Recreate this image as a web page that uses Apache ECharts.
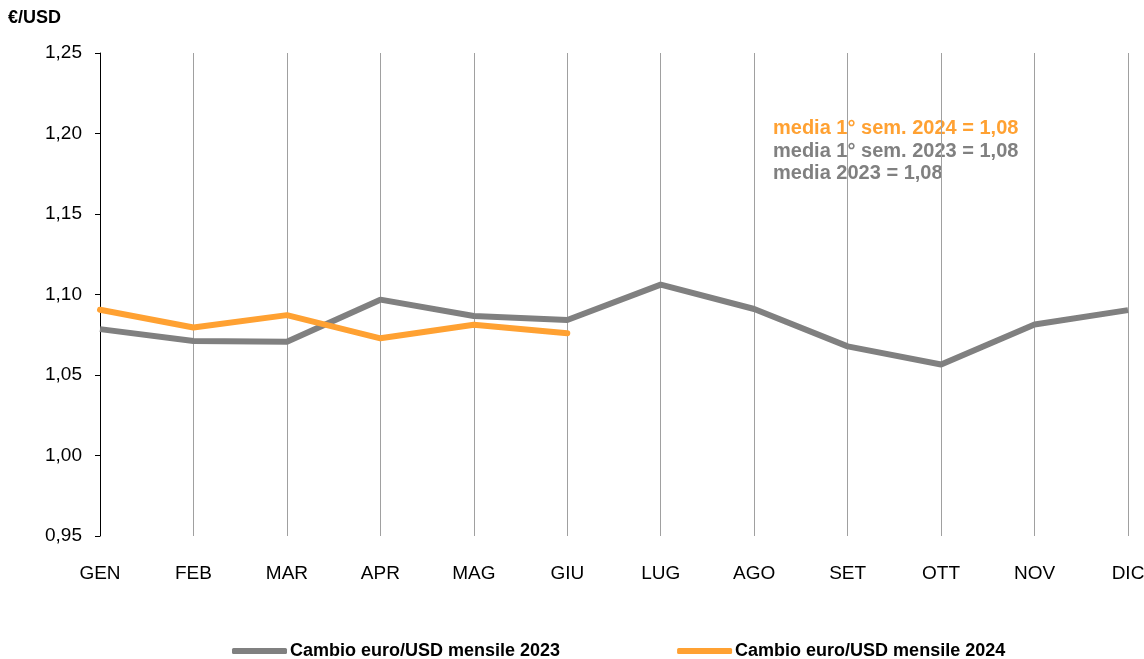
<!DOCTYPE html>
<html>
<head>
<meta charset="utf-8">
<script src="https://cdn.jsdelivr.net/npm/echarts@6/dist/echarts.min.js"></script>
<style>
  html, body { margin: 0; padding: 0; background: #fff; }
  #chart { width: 1144px; height: 659px; }
</style>
</head>
<body>
<div id="chart"></div>
<script>
// Monthly euro/USD exchange rate
const months = ['GEN', 'FEB', 'MAR', 'APR', 'MAG', 'GIU', 'LUG', 'AGO', 'SET', 'OTT', 'NOV', 'DIC'];
const rate2023 = [1.0785, 1.0711, 1.0706, 1.0968, 1.0866, 1.0842, 1.1061, 1.0910, 1.0678, 1.0565, 1.0814, 1.0903];
const rate2024 = [1.0905, 1.0795, 1.0872, 1.0728, 1.0812, 1.0759];
const seriesNames = ['Cambio euro/USD mensile 2023', 'Cambio euro/USD mensile 2024'];
const noteLines = ['media 1° sem. 2024 = 1,08', 'media 1° sem. 2023 = 1,08', 'media 2023 = 1,08'];

const GRAY = '#808080';
const ORANGE = '#FFA132';
const FONT = '"Liberation Sans", Arial, sans-serif';

const chart = echarts.init(document.getElementById('chart'));
chart.setOption({
  animation: false,
  backgroundColor: '#fff',
  textStyle: { fontFamily: FONT },
  grid: { left: 100, right: 16, top: 53, bottom: 123, containLabel: false, outerBoundsMode: 'none' },
  legend: {
    top: 642,
    left: 232,
    padding: 0,
    itemWidth: 55,
    itemHeight: 6,
    itemGap: 117,
    icon: 'roundRect',
    textStyle: { fontFamily: FONT, fontSize: 18, fontWeight: 'bold', color: '#000', padding: [0, 0, 0, -2] },
    data: seriesNames
  },
  xAxis: {
    type: 'category',
    data: months,
    boundaryGap: false,
    axisLine: { show: false },
    axisTick: { show: false },
    axisLabel: { margin: 28, fontSize: 19, color: '#000', fontFamily: FONT },
    splitLine: { show: true, lineStyle: { color: '#a0a0a0', width: 1 } }
  },
  yAxis: {
    type: 'value',
    min: 0.95,
    max: 1.25,
    interval: 0.05,
    name: '€/USD',
    nameLocation: 'end',
    nameGap: 0,
    nameTextStyle: { fontFamily: FONT, fontSize: 18, fontWeight: 'bold', color: '#000', align: 'left', padding: [0, 0, 26, -92] },
    axisLine: { show: true, lineStyle: { color: '#000', width: 1 } },
    axisTick: { show: true, length: 5, lineStyle: { color: '#000' } },
    axisLabel: {
      margin: 18, fontSize: 19, color: '#000', fontFamily: FONT,
      formatter: v => v.toFixed(2).replace('.', ',')
    },
    splitLine: { show: false }
  },
  series: [
    {
      name: seriesNames[0],
      type: 'line',
      data: rate2023,
      symbol: 'none',
      color: GRAY,
      lineStyle: { color: GRAY, width: 6 },
      z: 3
    },
    {
      name: seriesNames[1],
      type: 'line',
      data: rate2024,
      symbol: 'none',
      color: ORANGE,
      lineStyle: { color: ORANGE, width: 6, cap: 'round' },
      z: 4
    }
  ],
  graphic: [
    {
      type: 'group',
      z: 100,
      children: [
        { type: 'rect', shape: { x: 764, y: 111, width: 278, height: 113 }, style: { fill: '#fff' } },
        { type: 'text', x: 773, y: 128, style: { text: noteLines[0], fill: ORANGE, font: 'bold 20px ' + FONT, verticalAlign: 'middle' } },
        { type: 'text', x: 773, y: 151, style: { text: noteLines[1], fill: GRAY, font: 'bold 20px ' + FONT, verticalAlign: 'middle' } },
        { type: 'text', x: 773, y: 173, style: { text: noteLines[2], fill: GRAY, font: 'bold 20px ' + FONT, verticalAlign: 'middle' } }
      ]
    }
  ]
});
</script>
</body>
</html>
